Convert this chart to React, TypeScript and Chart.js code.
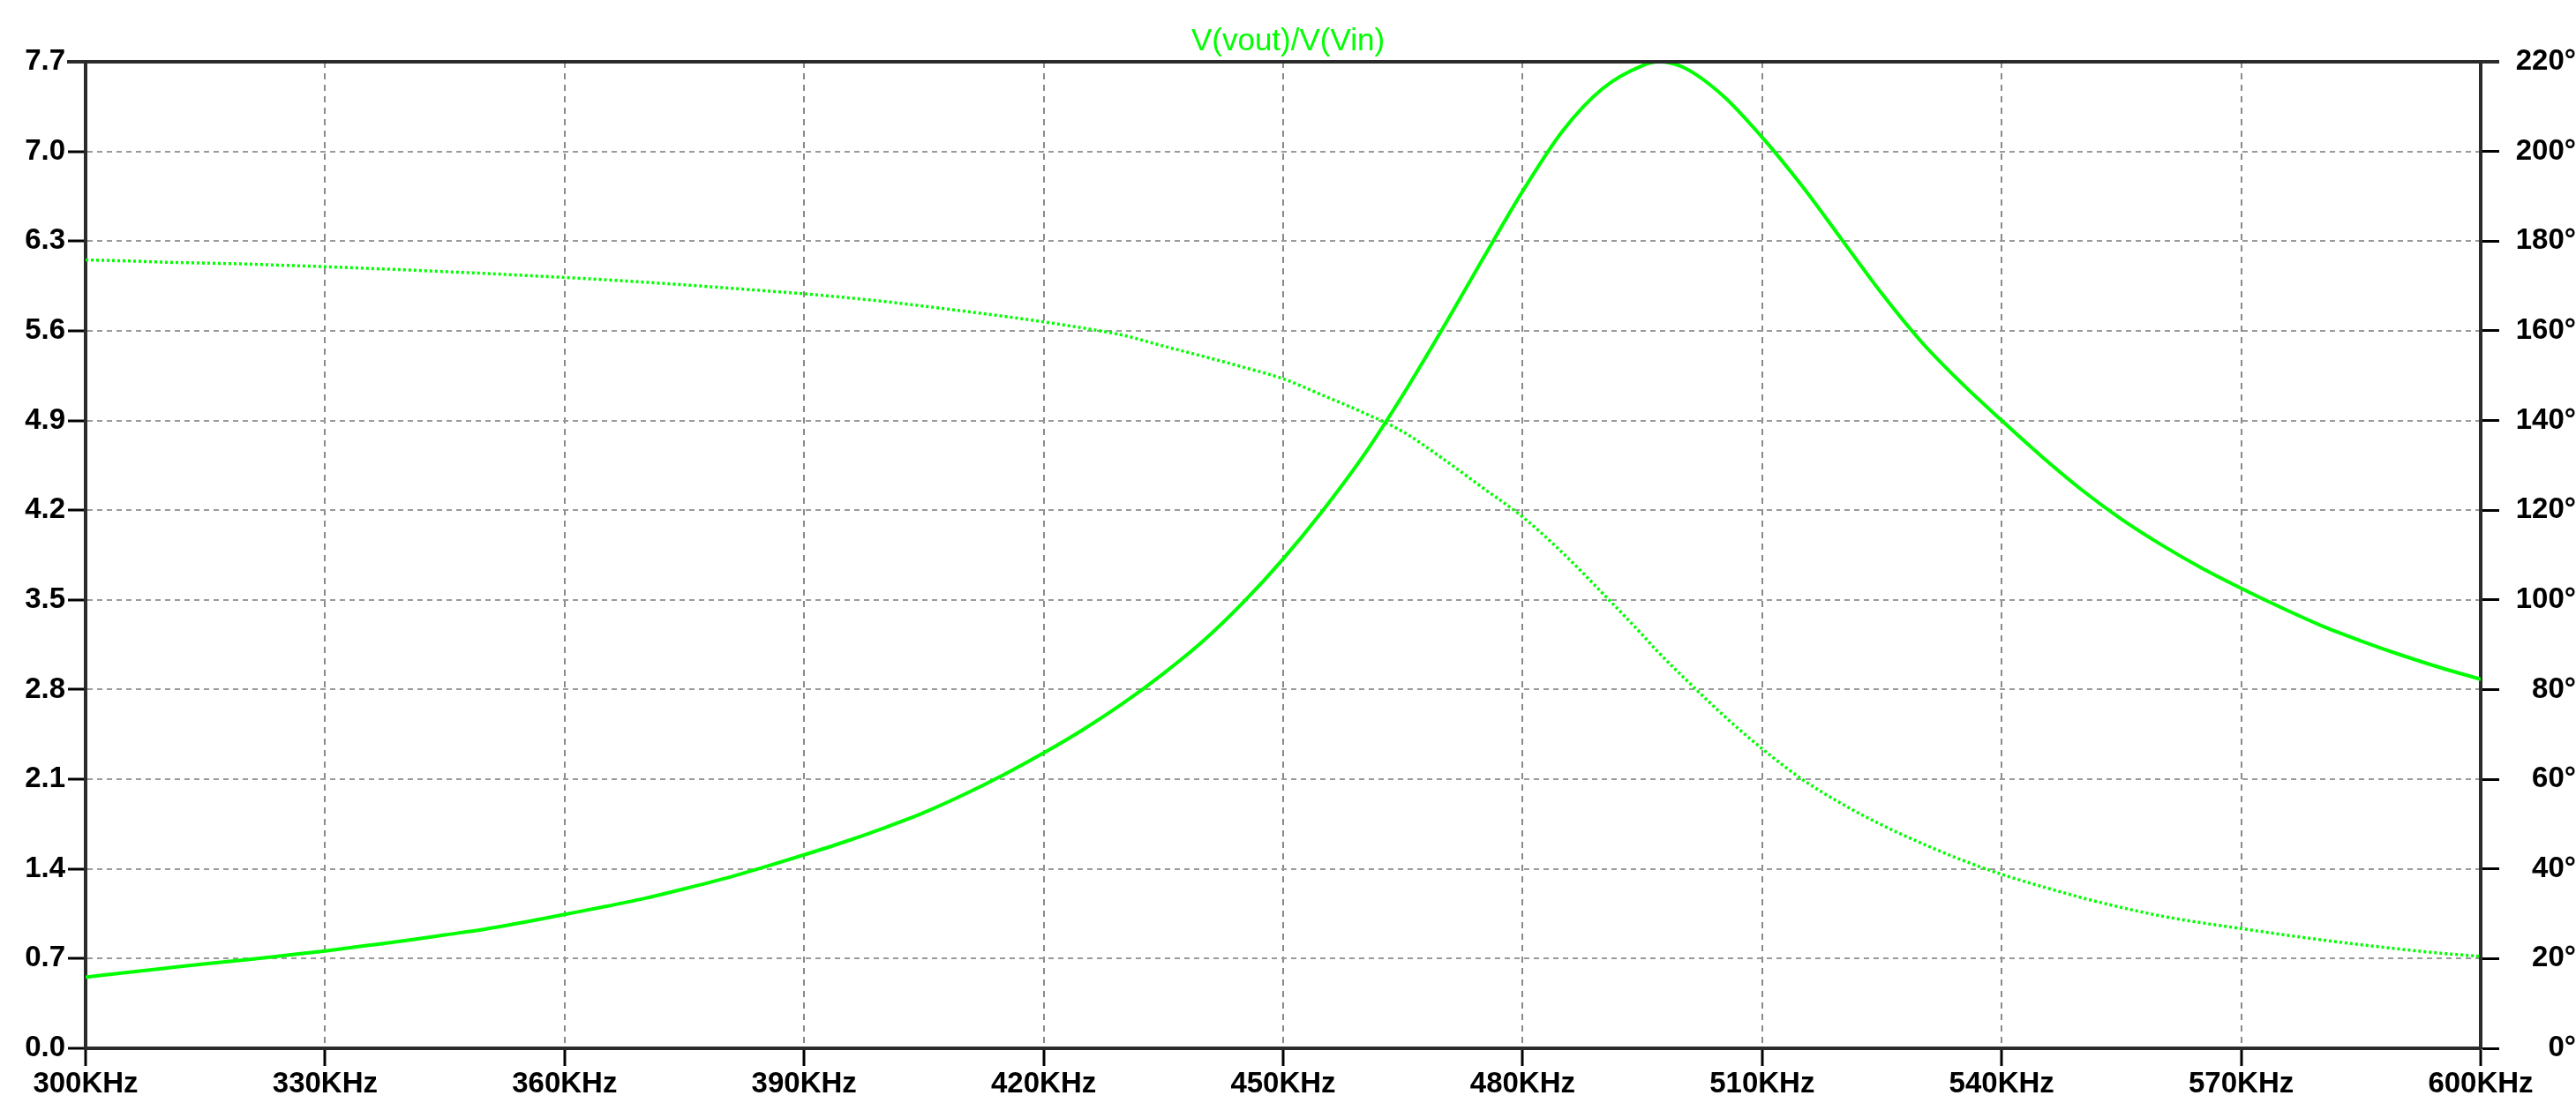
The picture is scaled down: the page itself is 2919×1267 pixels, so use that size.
import React, { useEffect, useRef } from "react";
import { Chart, registerables } from "chart.js";

Chart.register(...registerables);

const chartTitle = "V(vout)/V(Vin)";

const freqKHz = [
  300, 305, 310, 315, 320, 325, 330, 335, 340, 345, 350, 355, 360, 365, 370, 375,
  380, 385, 390, 395, 400, 405, 410, 415, 420, 425, 430, 435, 440, 445, 450, 455,
  460, 465, 470, 475, 480, 485, 490, 495, 497, 500, 505, 510, 515, 520, 525, 530,
  535, 540, 545, 550, 555, 560, 565, 570, 575, 580, 585, 590, 595, 600,
];

const magnitude = [
  0.555, 0.59, 0.625, 0.66, 0.69, 0.725, 0.76, 0.80, 0.84, 0.885, 0.93, 0.985, 1.045, 1.105, 1.17, 1.245,
  1.325, 1.415, 1.51, 1.61, 1.72, 1.84, 1.98, 2.135, 2.305, 2.49, 2.695, 2.925, 3.18, 3.48, 3.82, 4.20,
  4.62, 5.10, 5.62, 6.16, 6.69, 7.16, 7.49, 7.67, 7.70, 7.66, 7.44, 7.11, 6.73, 6.31, 5.89, 5.51,
  5.19, 4.90, 4.62, 4.36, 4.13, 3.93, 3.75, 3.59, 3.44, 3.30, 3.18, 3.07, 2.97, 2.88,
];

const phaseDeg = [
  175.8, 175.6, 175.3, 175.1, 174.9, 174.6, 174.3, 173.95, 173.6, 173.2, 172.8, 172.35, 171.9, 171.4, 170.85, 170.25,
  169.6, 168.95, 168.25, 167.45, 166.55, 165.5, 164.4, 163.25, 162.0, 160.6, 159.0, 156.6, 154.3, 151.9, 149.3, 145.6,
  141.8, 137.5, 131.5, 125.0, 118.5, 110.5, 101.5, 92.2, 88.3, 83.0, 74.5, 66.8, 60.0, 54.5, 49.8, 45.7,
  42.0, 38.8, 36.1, 33.6, 31.4, 29.5, 28.0, 26.7, 25.4, 24.2, 23.1, 22.1, 21.2, 20.5,
];

const xTickValues = [300, 330, 360, 390, 420, 450, 480, 510, 540, 570, 600];
const yTickValues = [0, 0.7, 1.4, 2.1, 2.8, 3.5, 4.2, 4.9, 5.6, 6.3, 7.0, 7.7];
const y1TickValues = [0, 20, 40, 60, 80, 100, 120, 140, 160, 180, 200, 220];

const W = 2919;
const H = 1267;
const FONT = '"Liberation Sans", Arial, sans-serif';
const GREEN = "#00ff00";

const topBorder = {
  id: "topBorder",
  afterDraw(chart: any) {
    const { ctx, chartArea } = chart;
    ctx.save();
    ctx.strokeStyle = "#2b2b2b";
    ctx.lineWidth = 4;
    ctx.beginPath();
    ctx.moveTo(chartArea.left - 21, chartArea.top);
    ctx.lineTo(chartArea.right + 21, chartArea.top);
    ctx.stroke();
    ctx.restore();
  },
};

export default function App() {
  const ref = useRef<HTMLCanvasElement | null>(null);

  useEffect(() => {
    if (!ref.current) return;
    const tickFont = { family: FONT, size: 33, weight: "bold" as const };
    const chart = new Chart(ref.current, {
      type: "line",
      data: {
        datasets: [
          {
            label: "magnitude",
            data: freqKHz.map((f, i) => ({ x: f, y: magnitude[i] })),
            borderColor: GREEN,
            borderWidth: 4,
            pointRadius: 0,
            cubicInterpolationMode: "monotone",
            yAxisID: "y",
          },
          {
            label: "phase",
            data: freqKHz.map((f, i) => ({ x: f, y: phaseDeg[i] })),
            borderColor: GREEN,
            borderWidth: 3.5,
            borderDash: [3, 3],
            pointRadius: 0,
            cubicInterpolationMode: "monotone",
            yAxisID: "y1",
          },
        ],
      },
      options: {
        responsive: false,
        animation: false,
        devicePixelRatio: 1,
        layout: { padding: 0 },
        plugins: {
          legend: { display: false },
          tooltip: { enabled: false },
          title: {
            display: true,
            text: chartTitle,
            color: GREEN,
            font: { family: FONT, size: 35, weight: "normal" },
            padding: { top: 26, bottom: 2 },
            lineHeight: 1.2,
          },
        },
        scales: {
          x: {
            type: "linear",
            min: 300,
            max: 600,
            afterBuildTicks: (s: any) => {
              s.ticks = xTickValues.map((v) => ({ value: v }));
            },
            afterFit: (s: any) => {
              s.height = H - 1188;
            },
            ticks: {
              autoSkip: false,
              maxRotation: 0,
              padding: 1,
              color: "#000",
              font: tickFont,
              callback: (v: any) => `${v}KHz`,
            },
            grid: {
              color: "#8a8a8a",
              lineWidth: 2,
              tickColor: "#000",
              tickWidth: 3,
              tickLength: 20,
            },
            border: { display: true, color: "#2b2b2b", width: 4, dash: [7, 6] },
          },
          y: {
            type: "linear",
            position: "left",
            min: 0,
            max: 7.7,
            afterBuildTicks: (s: any) => {
              s.ticks = yTickValues.map((v) => ({ value: v }));
            },
            afterFit: (s: any) => {
              s.width = 97;
            },
            ticks: {
              padding: 3,
              color: "#000",
              font: tickFont,
              callback: (v: any) => Number(v).toFixed(1),
            },
            grid: {
              color: "#9a9a9a",
              lineWidth: 2,
              tickColor: "#000",
              tickWidth: 3,
              tickLength: 20,
            },
            border: { display: true, color: "#2b2b2b", width: 4, dash: [6, 5] },
          },
          y1: {
            type: "linear",
            position: "right",
            min: 0,
            max: 220,
            afterBuildTicks: (s: any) => {
              s.ticks = y1TickValues.map((v) => ({ value: v }));
            },
            afterFit: (s: any) => {
              s.width = W - 2811;
            },
            ticks: {
              padding: 3,
              crossAlign: "far",
              color: "#000",
              font: tickFont,
              callback: (v: any) => `${v}°`,
            },
            grid: {
              drawOnChartArea: false,
              tickColor: "#000",
              tickWidth: 3,
              tickLength: 21,
            },
            border: { display: true, color: "#2b2b2b", width: 4 },
          },
        },
      },
      plugins: [topBorder],
    });
    return () => chart.destroy();
  }, []);

  return (
    <div style={{ position: "absolute", left: 0, top: 0, width: W, height: H, background: "#fff" }}>
      <canvas ref={ref} width={W} height={H} style={{ display: "block" }} />
    </div>
  );
}
